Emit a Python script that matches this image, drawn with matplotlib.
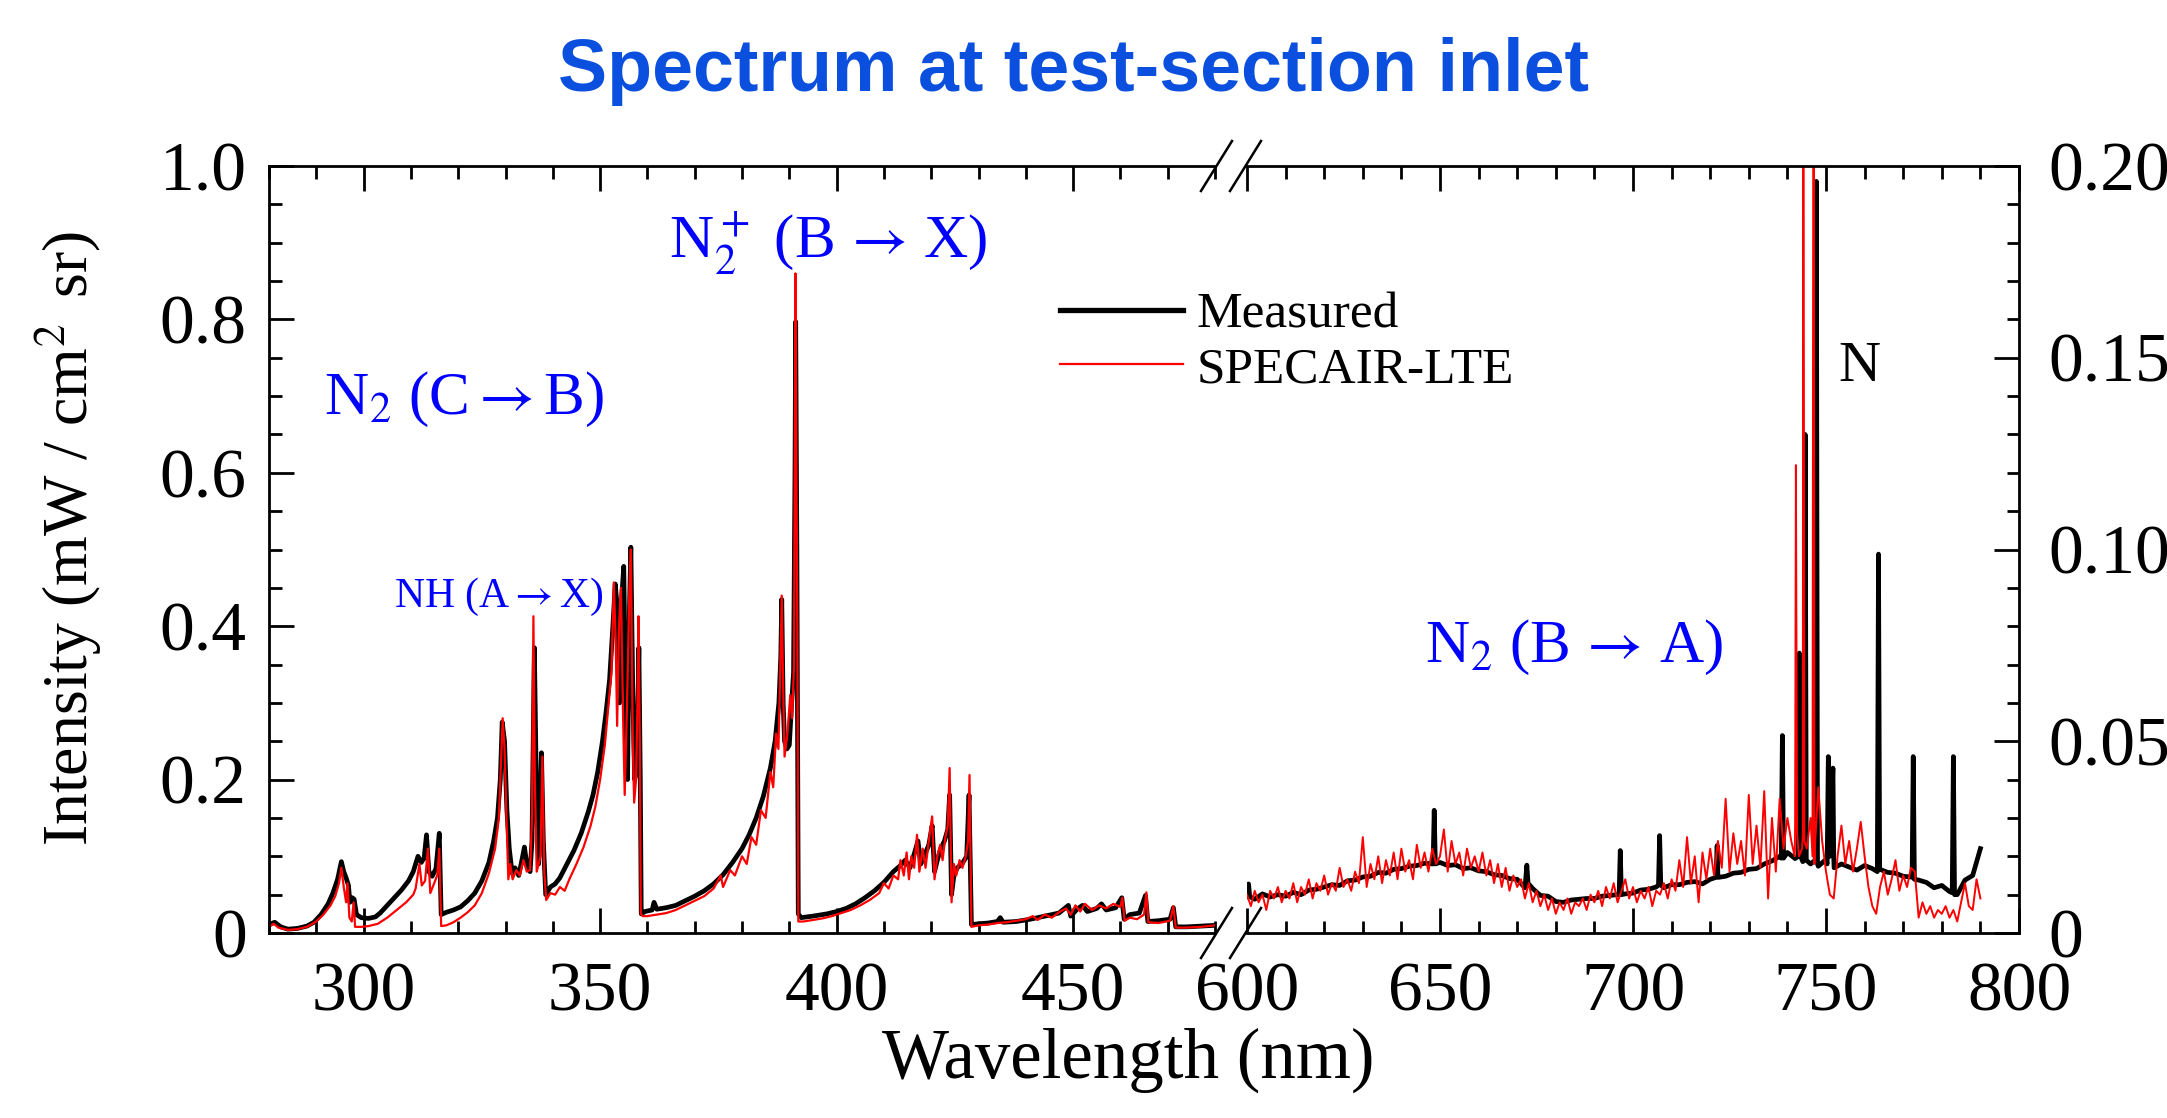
import matplotlib
matplotlib.use("Agg")
import matplotlib.pyplot as plt
import numpy as np
from matplotlib.lines import Line2D
from matplotlib.ticker import MultipleLocator, FixedLocator, FixedFormatter

plt.rcParams["font.family"] = ["Liberation Serif", "DejaVu Serif"]
plt.rcParams["mathtext.fontset"] = "stix"

# ---- data: UV / visible part (left scale, mW/cm2 sr) ----
meas_uv = [
    (280.0, 0.011), (281.2, 0.014), (282.5, 0.008), (284.0, 0.005), (286.0, 0.006), (288.0, 0.009),
    (289.5, 0.014), (291.0, 0.024), (292.5, 0.038), (293.5, 0.052), (294.5, 0.070), (295.3, 0.093),
    (295.8, 0.080), (296.3, 0.072), (296.8, 0.062), (297.1, 0.040), (297.6, 0.046), (298.0, 0.044),
    (298.5, 0.024), (299.5, 0.020), (301.0, 0.019), (302.5, 0.021), (303.5, 0.026), (305.0, 0.036),
    (306.5, 0.046), (308.0, 0.056), (309.5, 0.068), (310.5, 0.080), (311.5, 0.100), (312.2, 0.092),
    (312.8, 0.098), (313.3, 0.128), (313.8, 0.080), (314.5, 0.074), (315.3, 0.084), (316.0, 0.130),
    (316.4, 0.024), (317.5, 0.027), (319.0, 0.030), (320.5, 0.034), (322.0, 0.042), (323.5, 0.052),
    (325.0, 0.068), (326.5, 0.092), (327.5, 0.120), (328.3, 0.150), (328.9, 0.200), (329.3, 0.275),
    (329.8, 0.250), (330.3, 0.160), (330.8, 0.110), (331.4, 0.078), (332.0, 0.085), (332.8, 0.075),
    (333.5, 0.096), (334.0, 0.112), (334.5, 0.090), (335.2, 0.080), (335.6, 0.120), (336.1, 0.372),
    (336.6, 0.160), (337.0, 0.090), (337.6, 0.235), (338.0, 0.120), (338.5, 0.050), (339.5, 0.060),
    (340.5, 0.064), (341.5, 0.072), (343.0, 0.090), (344.5, 0.108), (346.0, 0.130), (347.5, 0.158),
    (348.5, 0.180), (349.5, 0.210), (350.5, 0.250), (351.3, 0.290), (352.0, 0.330), (352.7, 0.400),
    (353.2, 0.455), (353.7, 0.420), (354.1, 0.300), (354.6, 0.440), (355.0, 0.478), (355.4, 0.300),
    (355.8, 0.200), (356.2, 0.420), (356.5, 0.503), (356.9, 0.320), (357.3, 0.200), (357.7, 0.210),
    (358.0, 0.300), (358.2, 0.372), (358.5, 0.200), (358.7, 0.025), (359.5, 0.028), (361.0, 0.030),
    (361.4, 0.040), (362.0, 0.031), (364.0, 0.033), (366.0, 0.036), (368.0, 0.042), (370.0, 0.048),
    (372.0, 0.055), (374.0, 0.064), (376.0, 0.076), (378.0, 0.092), (380.0, 0.110), (381.5, 0.128),
    (383.0, 0.150), (384.5, 0.178), (386.0, 0.215), (387.0, 0.250), (387.8, 0.300), (388.2, 0.360),
    (388.4, 0.435), (388.7, 0.300), (389.0, 0.250), (389.5, 0.240), (390.0, 0.245), (390.5, 0.300),
    (390.9, 0.340), (391.2, 0.600), (391.35, 0.797), (391.6, 0.500), (391.9, 0.025), (392.5, 0.020),
    (395.0, 0.022), (398.0, 0.025), (400.0, 0.028), (402.0, 0.032), (404.0, 0.038), (406.0, 0.046),
    (408.0, 0.055), (410.0, 0.066), (412.0, 0.080), (413.5, 0.088), (414.5, 0.095), (415.5, 0.085),
    (416.5, 0.105), (417.2, 0.120), (417.8, 0.090), (418.5, 0.100), (419.5, 0.115), (420.2, 0.140),
    (420.7, 0.080), (421.3, 0.095), (422.0, 0.110), (422.8, 0.120), (423.5, 0.135), (423.9, 0.180),
    (424.3, 0.050), (424.8, 0.075), (425.5, 0.085), (426.5, 0.090), (427.5, 0.100), (428.0, 0.180),
    (428.5, 0.011), (430.0, 0.012), (432.0, 0.013), (434.0, 0.015), (434.6, 0.020), (435.2, 0.014),
    (438.0, 0.015), (441.0, 0.018), (444.0, 0.022), (447.0, 0.026), (449.0, 0.036), (449.5, 0.022),
    (451.0, 0.032), (452.0, 0.036), (453.0, 0.028), (455.0, 0.032), (456.0, 0.038), (457.0, 0.030),
    (459.0, 0.033), (460.3, 0.046), (460.8, 0.018), (462.0, 0.024), (464.0, 0.026), (465.3, 0.049),
    (465.8, 0.015), (468.0, 0.016), (470.5, 0.018), (471.2, 0.033), (471.7, 0.008), (474.0, 0.008),
    (477.0, 0.009), (480.0, 0.010),
]

spec_uv = [
    (280.0, 0.008), (281.0, 0.012), (282.0, 0.007), (284.0, 0.004), (286.0, 0.005), (288.0, 0.008),
    (290.0, 0.015), (291.5, 0.024), (293.0, 0.036), (294.0, 0.048), (294.8, 0.065), (295.3, 0.085),
    (295.8, 0.060), (296.3, 0.040), (296.6, 0.065), (297.0, 0.020), (297.5, 0.015), (297.9, 0.040),
    (298.2, 0.008), (299.5, 0.008), (301.0, 0.009), (303.0, 0.012), (305.0, 0.020), (307.0, 0.030),
    (309.0, 0.040), (310.5, 0.050), (311.0, 0.058), (311.8, 0.090), (312.3, 0.062), (313.0, 0.068),
    (313.6, 0.110), (314.1, 0.052), (315.0, 0.066), (315.6, 0.076), (316.0, 0.110), (316.4, 0.009),
    (317.5, 0.010), (319.0, 0.014), (320.5, 0.020), (322.0, 0.027), (323.5, 0.036), (325.0, 0.052),
    (326.5, 0.078), (327.8, 0.110), (328.6, 0.150), (329.1, 0.230), (329.4, 0.280), (329.8, 0.240),
    (330.2, 0.150), (330.6, 0.070), (331.0, 0.090), (331.5, 0.070), (332.3, 0.082), (333.0, 0.075),
    (333.8, 0.095), (334.5, 0.080), (335.2, 0.082), (335.6, 0.150), (335.9, 0.413), (336.2, 0.200),
    (336.6, 0.080), (337.4, 0.100), (337.8, 0.230), (338.2, 0.080), (338.6, 0.043), (339.5, 0.052),
    (340.5, 0.050), (341.5, 0.060), (342.5, 0.055), (343.5, 0.070), (345.0, 0.090), (346.5, 0.112),
    (348.0, 0.140), (349.0, 0.165), (350.0, 0.200), (351.0, 0.245), (351.8, 0.300), (352.4, 0.340),
    (352.9, 0.457), (353.3, 0.380), (353.6, 0.270), (354.0, 0.400), (354.4, 0.450), (354.8, 0.300),
    (355.2, 0.180), (355.7, 0.300), (356.2, 0.450), (356.5, 0.500), (356.9, 0.250), (357.2, 0.170),
    (357.6, 0.200), (357.9, 0.300), (358.1, 0.413), (358.4, 0.250), (358.6, 0.025), (359.0, 0.022),
    (360.0, 0.022), (362.0, 0.024), (364.0, 0.026), (366.0, 0.030), (368.0, 0.036), (370.0, 0.042),
    (372.0, 0.048), (374.0, 0.058), (375.5, 0.075), (376.0, 0.060), (377.5, 0.082), (378.5, 0.075),
    (380.0, 0.100), (381.0, 0.090), (382.0, 0.125), (383.0, 0.115), (384.0, 0.160), (385.0, 0.150),
    (386.0, 0.210), (386.6, 0.190), (387.2, 0.260), (387.7, 0.240), (388.0, 0.320), (388.4, 0.440),
    (388.7, 0.320), (389.0, 0.230), (389.6, 0.260), (390.2, 0.310), (390.6, 0.280), (391.0, 0.350),
    (391.3, 0.860), (391.5, 0.600), (391.7, 0.400), (391.9, 0.015), (393.0, 0.015), (395.0, 0.017),
    (397.0, 0.019), (399.0, 0.022), (401.0, 0.026), (403.0, 0.030), (405.0, 0.036), (407.0, 0.043),
    (409.0, 0.052), (410.0, 0.065), (411.0, 0.058), (412.0, 0.075), (413.0, 0.070), (413.5, 0.095),
    (414.2, 0.075), (414.8, 0.105), (415.3, 0.070), (415.8, 0.100), (416.4, 0.085), (417.0, 0.128),
    (417.5, 0.080), (418.2, 0.110), (418.8, 0.085), (419.5, 0.120), (420.2, 0.152), (420.7, 0.070),
    (421.3, 0.100), (421.9, 0.115), (422.4, 0.095), (423.0, 0.125), (423.5, 0.140), (423.9, 0.215),
    (424.3, 0.040), (424.8, 0.090), (425.3, 0.075), (426.0, 0.095), (426.6, 0.085), (427.3, 0.100),
    (427.8, 0.120), (428.1, 0.206), (428.5, 0.008), (430.0, 0.010), (432.0, 0.011), (434.0, 0.013),
    (436.0, 0.014), (438.0, 0.016), (440.0, 0.018), (441.5, 0.022), (442.5, 0.017), (444.0, 0.024),
    (445.5, 0.020), (447.0, 0.027), (448.5, 0.032), (449.5, 0.024), (450.5, 0.036), (451.5, 0.028),
    (452.5, 0.038), (454.0, 0.030), (455.5, 0.036), (457.0, 0.032), (458.5, 0.038), (460.0, 0.034),
    (460.4, 0.046), (460.9, 0.016), (462.0, 0.020), (463.5, 0.018), (465.0, 0.024), (465.5, 0.053),
    (465.9, 0.014), (468.0, 0.013), (470.5, 0.016), (471.2, 0.035), (471.7, 0.007), (474.0, 0.007),
    (477.0, 0.008), (480.0, 0.010),
]

# ---- data: red / near-IR part (right scale) ----
meas_nir_wl = np.arange(600, 791, 2.0)
meas_nir = [
    0.0095, 0.0088, 0.0102, 0.0094, 0.0100, 0.0096, 0.0106, 0.0100, 0.0112, 0.0114,
    0.0120, 0.0126, 0.0124, 0.0136, 0.0138, 0.0146, 0.0148, 0.0158, 0.0156, 0.0166,
    0.0168, 0.0174, 0.0176, 0.0182, 0.0180, 0.0184, 0.0176, 0.0178, 0.0168, 0.0170,
    0.0162, 0.0160, 0.0152, 0.0150, 0.0142, 0.0140, 0.0118, 0.0116, 0.0098, 0.0096,
    0.0082, 0.0080, 0.0086, 0.0088, 0.0090, 0.0090, 0.0096, 0.0098, 0.0100, 0.0102,
    0.0104, 0.0112, 0.0114, 0.0120, 0.0118, 0.0126, 0.0126, 0.0132, 0.0134, 0.0128,
    0.0140, 0.0146, 0.0148, 0.0156, 0.0158, 0.0166, 0.0168, 0.0180, 0.0188, 0.0200,
    0.0210, 0.0194, 0.0186, 0.0180, 0.0174, 0.0192, 0.0198, 0.0180, 0.0172, 0.0164,
    0.0176, 0.0168, 0.0166, 0.0158, 0.0156, 0.0148, 0.0146, 0.0138, 0.0132, 0.0118,
    0.0124, 0.0108, 0.0100, 0.0138, 0.0150, 0.0220,
]
# atomic lines in the measured spectrum (with their feet)
meas_nir_lines = [
    (600.2, 0.0100), (600.4, 0.0128), (600.7, 0.0095),
    (648.2, 0.0180), (648.5, 0.0320), (648.8, 0.0180),
    (672.2, 0.0140), (672.5, 0.0177), (672.8, 0.0130),
    (696.4, 0.0100), (696.7, 0.0215), (697.0, 0.0100),
    (706.6, 0.0125), (706.9, 0.0254), (707.2, 0.0125),
    (721.5, 0.0145), (721.8, 0.0228), (722.1, 0.0145),
    (738.4, 0.0195), (738.7, 0.0515), (739.0, 0.0195),
    (742.8, 0.0200), (743.1, 0.0730), (743.4, 0.0200),
    (744.3, 0.0190), (744.6, 0.1300), (744.9, 0.0190),
    (747.2, 0.0190), (747.5, 0.1960), (747.8, 0.0180),
    (750.3, 0.0180), (750.6, 0.0460), (751.0, 0.0200), (751.8, 0.0430), (752.1, 0.0170),
    (763.3, 0.0160), (763.6, 0.0988), (763.9, 0.0165),
    (772.3, 0.0145), (772.6, 0.0460), (772.9, 0.0140),
    (782.7, 0.0105), (783.0, 0.0460), (783.3, 0.0100),
]

spec_nir_wl = np.arange(600, 791, 1.0)
spec_nir = [
    0.010, 0.007, 0.011, 0.008, 0.010, 0.006, 0.011, 0.009, 0.012, 0.008,
    0.011, 0.009, 0.013, 0.008, 0.012, 0.010, 0.014, 0.009, 0.013, 0.011,
    0.015, 0.010, 0.013, 0.011, 0.017, 0.012, 0.014, 0.011, 0.016, 0.013,
    0.025, 0.012, 0.018, 0.014, 0.020, 0.013, 0.019, 0.015, 0.021, 0.014,
    0.022, 0.016, 0.019, 0.014, 0.023, 0.017, 0.021, 0.016, 0.022, 0.018,
    0.020, 0.027, 0.016, 0.024, 0.018, 0.021, 0.015, 0.022, 0.017, 0.020,
    0.016, 0.021, 0.015, 0.019, 0.013, 0.018, 0.012, 0.017, 0.011, 0.015,
    0.012, 0.014, 0.009, 0.013, 0.008, 0.011, 0.007, 0.010, 0.006, 0.009,
    0.005, 0.008, 0.006, 0.009, 0.005, 0.008, 0.007, 0.009, 0.006, 0.010,
    0.008, 0.011, 0.007, 0.012, 0.009, 0.013, 0.008, 0.011, 0.014, 0.009,
    0.012, 0.008, 0.011, 0.009, 0.012, 0.007, 0.011, 0.010, 0.013, 0.009,
    0.014, 0.011, 0.019, 0.012, 0.025, 0.013, 0.020, 0.008, 0.021, 0.014,
    0.022, 0.015, 0.024, 0.017, 0.035, 0.016, 0.026, 0.018, 0.024, 0.015,
    0.036, 0.018, 0.028, 0.017, 0.037, 0.009, 0.030, 0.016, 0.035, 0.022,
    0.030, 0.024, 0.028, 0.020, 0.026, 0.022, 0.030, 0.018, 0.038, 0.024,
    0.016, 0.010, 0.009, 0.020, 0.028, 0.018, 0.024, 0.016, 0.022, 0.029,
    0.020, 0.012, 0.007, 0.005, 0.012, 0.016, 0.010, 0.014, 0.019, 0.011,
    0.015, 0.012, 0.017, 0.016, 0.004, 0.008, 0.005, 0.007, 0.004, 0.006,
    0.005, 0.007, 0.004, 0.006, 0.003, 0.008, 0.013, 0.007, 0.006, 0.014,
    0.009,
]
spec_nir_lines = [
    (741.9, 0.020), (742.2, 0.122), (742.5, 0.026),
    (743.8, 0.022), (744.1, 0.300), (744.4, 0.024),
    (746.5, 0.020), (746.8, 0.300), (747.1, 0.022),
]


def merge(wl, vals, lines):
    x = np.concatenate([np.asarray(wl, float), [p[0] for p in lines]])
    y = np.concatenate([np.asarray(vals, float), [p[1] for p in lines]])
    order = np.argsort(x, kind="stable")
    return x[order], y[order]


W, H = 2167, 1118
def fx(px):
    return px / W
def fy(py):
    return 1 - py / H

BLUE = "#0000ff"
fig = plt.figure(figsize=(W / 100, H / 100), dpi=100)
ax1 = fig.add_axes([fx(269), fy(933), fx(1215) - fx(269), fy(166) - fy(933)])
ax2 = fig.add_axes([fx(1247), fy(933), fx(2019) - fx(1247), fy(166) - fy(933)])

# left panel
x, y = zip(*meas_uv)
ax1.plot(x, y, color="black", lw=3.4, solid_joinstyle="round")
x, y = zip(*spec_uv)
ax1.plot(x, y, color="red", lw=1.6)
ax1.set_xlim(280, 480)
ax1.set_ylim(0, 1.0)

# right panel
x, y = merge(meas_nir_wl, meas_nir, meas_nir_lines)
ax2.plot(x, y, color="black", lw=3.4, solid_joinstyle="round")
x, y = merge(spec_nir_wl, spec_nir, spec_nir_lines)
ax2.plot(x, y, color="red", lw=1.4)
ax2.set_xlim(600, 800)
ax2.set_ylim(0, 0.20)

for ax in (ax1, ax2):
    for s in ax.spines.values():
        s.set_linewidth(2.0)
    ax.tick_params(which="both", direction="in", top=True, width=2.0, labelsize=50)
    ax.tick_params(which="major", length=18)
    ax.tick_params(which="minor", length=9)
    ax.xaxis.set_major_locator(MultipleLocator(50))
    ax.xaxis.set_minor_locator(MultipleLocator(10))
    ax.tick_params(axis="x", pad=21)

ax1.spines["right"].set_visible(False)
ax1.tick_params(which="both", right=False)
ax1.yaxis.set_major_locator(FixedLocator([0, 0.2, 0.4, 0.6, 0.8, 1.0]))
ax1.yaxis.set_major_formatter(FixedFormatter(["0", "0.2", "0.4", "0.6", "0.8", "1.0"]))
ax1.yaxis.set_minor_locator(MultipleLocator(0.05))
ax1.tick_params(axis="y", pad=16)

ax2.spines["left"].set_visible(False)
ax2.yaxis.tick_right()
ax2.tick_params(which="both", left=False, right=True, labelleft=False, labelright=True)
ax2.yaxis.set_major_locator(FixedLocator([0, 0.05, 0.10, 0.15, 0.20]))
ax2.yaxis.set_major_formatter(FixedFormatter(["0", "0.05", "0.10", "0.15", "0.20"]))
ax2.yaxis.set_minor_locator(MultipleLocator(0.01))
ax2.tick_params(axis="y", pad=21)

# axis break marks
for y0 in (166, 933):
    for x0 in (1201, 1230):
        fig.add_artist(Line2D([fx(x0), fx(x0 + 31)], [fy(y0 + 25), fy(y0 - 25)],
                              transform=fig.transFigure, color="black", lw=1.8))

# band labels
ax1.text(291.6, 0.677, "N$_2$ (C$\\rightarrow$B)", color=BLUE, fontsize=44, va="baseline")
ax1.text(364.6, 0.879, "N$_2^+$ (B$\\,\\rightarrow\\,$X)", color=BLUE, fontsize=44, va="baseline")
ax1.text(306.5, 0.425, "NH (A$\\rightarrow$X)", color=BLUE, fontsize=30, va="baseline")
ax2.text(646.0, 0.0707, "N$_2$ (B$\\,\\rightarrow\\,$A)", color=BLUE, fontsize=44, va="baseline")
ax2.text(753.3, 0.144, "N", color="black", fontsize=42, va="baseline")

handles = [Line2D([], [], color="black", lw=3.8), Line2D([], [], color="red", lw=1.6)]
fig.legend(handles, ["Measured", "SPECAIR-LTE"], loc="upper left",
           bbox_to_anchor=(fx(1060), fy(292)), frameon=False, fontsize=37,
           borderpad=0, borderaxespad=0, handlelength=2.39, handletextpad=0.27,
           labelspacing=0.14)

fig.text(fx(1128), fy(1060), "Wavelength (nm)", fontsize=51, ha="center", va="center")
fig.text(fx(68), fy(539), "Intensity (mW / cm$^2\\,$ sr)", fontsize=46, ha="center",
         va="center", rotation=90)
fig.text(fx(1073), fy(72), "Spectrum at test-section inlet", fontsize=53, ha="center",
         va="center", color="#0b4fde", weight="bold", family="Liberation Sans")

fig.savefig("out.png", dpi=100)
